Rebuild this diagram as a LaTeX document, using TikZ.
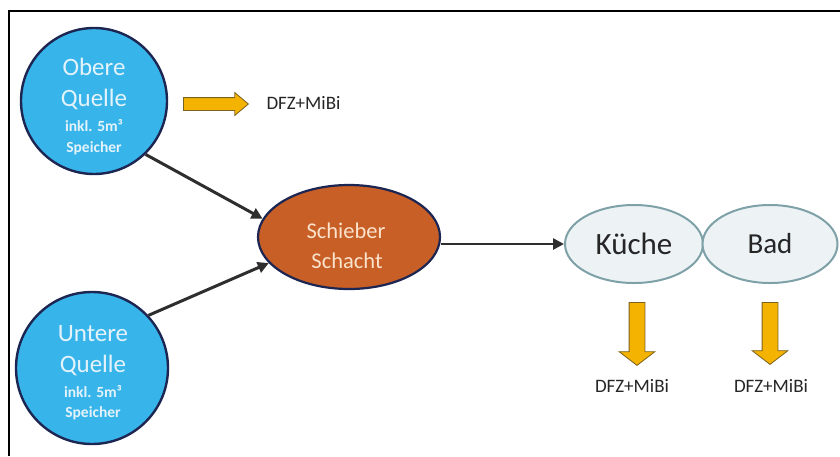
\documentclass[tikz,border=0pt]{standalone}
\usepackage{fontspec}
\setmainfont{Carlito}
\usetikzlibrary{arrows.meta,shapes.geometric,shapes.arrows}
\definecolor{qblue}{HTML}{37B5EA}
\definecolor{navy}{HTML}{1D2652}
\definecolor{qtext}{HTML}{E4F3FB}
\definecolor{sorange}{HTML}{C75F27}
\definecolor{stext}{HTML}{FBE2CB}
\definecolor{rfill}{HTML}{EDF2F5}
\definecolor{rborder}{HTML}{7DA1A7}
\definecolor{yfill}{HTML}{F5B301}
\definecolor{yborder}{HTML}{7A6220}
\definecolor{conn}{HTML}{2E2E2E}
\tikzset{
  quelle/.style={circle,draw=navy,line width=2.4pt,fill=qblue,inner sep=0pt},
  qbig/.style={text=qtext,font=\fontsize{25}{30}\selectfont,anchor=base},
  qsmall/.style={text=qtext,font=\bfseries\fontsize{15.5}{18}\selectfont,anchor=base},
  schacht/.style={ellipse,draw=navy,line width=2.2pt,fill=sorange,inner sep=0pt,
    minimum width=182pt,minimum height=104pt},
  stxt/.style={text=stext,font=\fontsize{22.5}{27}\selectfont,anchor=base},
  raum/.style={ellipse,draw=rborder,line width=2pt,fill=rfill,inner sep=0pt,
    minimum height=78pt,text=black!85},
  flow/.style={draw=conn,line width=3pt,-{Triangle[length=11pt,width=11pt]}},
  yarrow/.style={single arrow,draw=yborder,line width=0.8pt,fill=yfill,
    inner xsep=0pt,single arrow head indent=0pt},
  dfz/.style={font=\fontsize{19}{22}\selectfont,text=black!85,anchor=base}
}
\begin{document}
\begin{tikzpicture}[x=1pt,y=-1pt]
\useasboundingbox (0,0) rectangle (840,456);
% frame
\draw[line width=2pt] (9,456) -- (9,11) -- (840,11);

% sources
\node[quelle,minimum size=146pt] (obere) at (94,101) {};
\node[qbig] (obere1) at (94,75) {Obere};
\node[qbig] (obere2) at (94,106) {Quelle};
\node[qsmall] (obere3) at (94,131) {inkl. 5m³};
\node[qsmall] (obere4) at (94,152) {Speicher};

\node[quelle,minimum size=152pt] (untere) at (92,368) {};
\node[qbig] (untere1) at (93,341) {Untere};
\node[qbig] (untere2) at (93,372) {Quelle};
\node[qsmall] (untere3) at (93,397) {inkl. 5m³};
\node[qsmall] (untere4) at (93,417) {Speicher};

% shaft
\node[schacht] (schieber) at (349,237) {};
\node[stxt] (schieber1) at (346,238) {Schieber};
\node[stxt] (schieber2) at (347,268) {Schacht};

% rooms
\node[raum,minimum width=138pt,font=\fontsize{31}{36}\selectfont] (kueche) at (634,244) {Küche};
\node[raum,minimum width=135pt,font=\fontsize{29}{34}\selectfont] (bad) at (770,244) {Bad};

% connectors
\draw[flow] (obere.-46) -- (schieber.168);
\draw[flow] (untere.43) -- (schieber.198);
\draw[flow,line width=2.6pt] (kueche.west -| schieber.east) -- (kueche.west);

% yellow arrows
\node[yarrow,anchor=tail,minimum height=65pt,inner ysep=6pt,
  single arrow head extend=5pt,single arrow tip angle=80] (ya1) at (183,104) {};
\node[dfz,anchor=base west] (dfz1) at (263,109) {DFZ+MiBi};

\node[yarrow,anchor=tail,rotate=-90,minimum height=63pt,inner ysep=7.5pt,
  single arrow head extend=10pt,single arrow tip angle=105] (ya2) at (637,302) {};
\node[dfz] (dfz2) at (632,392) {DFZ+MiBi};

\node[yarrow,anchor=tail,rotate=-90,minimum height=62pt,inner ysep=7.5pt,
  single arrow head extend=10pt,single arrow tip angle=105] (ya3) at (770,302) {};
\node[dfz] (dfz3) at (771,392) {DFZ+MiBi};
\end{tikzpicture}
\end{document}
